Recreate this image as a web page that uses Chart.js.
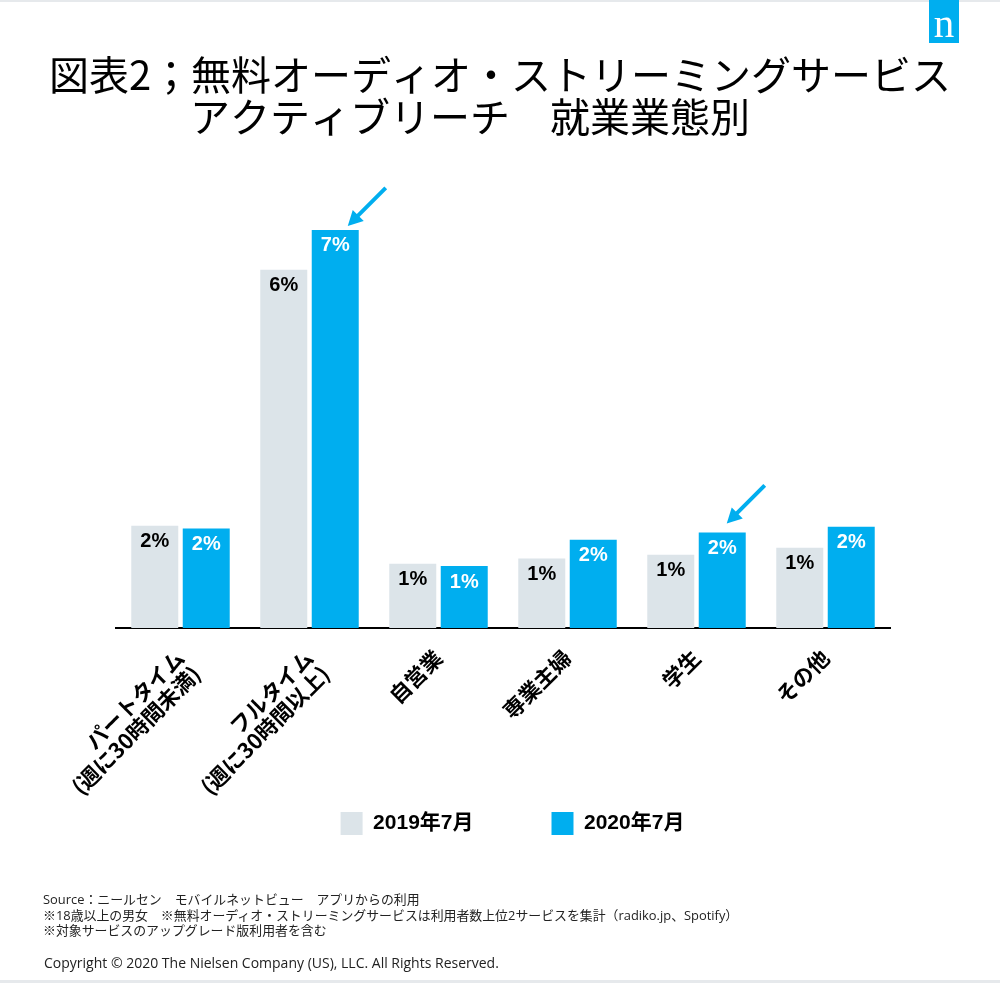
<!DOCTYPE html>
<html lang="ja"><head><meta charset="utf-8">
<script src="https://cdn.jsdelivr.net/npm/chart.js@4"></script>
<style>
html,body{margin:0;padding:0;background:#fff;width:1000px;height:983px;overflow:hidden}
#wrap{position:relative;width:1000px;height:983px}
canvas{position:absolute;left:0;top:0}
.edge{position:absolute;left:0;width:1000px;background:#e6e9ec}
#logo{position:absolute;left:929px;top:0;width:30px;height:43px;background:#00aeef;color:#fff;font:400 41px/46px "Liberation Serif",serif;text-align:center}
.note{position:absolute;left:43px;font:12.9px/16px "Open Sans","Noto Sans CJK JP",sans-serif;color:#222;white-space:pre}
</style></head><body>
<div id="wrap">
<canvas id="c" width="1000" height="983"></canvas>
<div class="edge" style="top:0;height:2px"></div>
<div class="edge" style="top:980px;height:3px"></div>
<div id="logo">n</div>
<div class="note" style="top:891px">Source：ニールセン　モバイルネットビュー　アプリからの利用</div>
<div class="note" style="top:907px">※18歳以上の男女　※無料オーディオ・ストリーミングサービスは利用者数上位2サービスを集計（radiko.jp、Spotify）</div>
<div class="note" style="top:922px">※対象サービスのアップグレード版利用者を含む</div>
<div class="note" style="top:955px;font-size:14px;left:44px">Copyright © 2020 The Nielsen Company (US), LLC. All Rights Reserved.</div>
</div>
<script>
const titleLines = ["図表2；無料オーディオ・ストリーミングサービス", "アクティブリーチ　就業業態別　\u2002"];
const categories = [["パートタイム","(週に30時間未満)"],["フルタイム","(週に30時間以上)"],"自営業","専業主婦","学生","その他"];
const seriesNames = ["2019年7月","2020年7月"];
const values2019 = [1.80,6.30,1.13,1.22,1.29,1.41];
const values2020 = [1.75,7.00,1.09,1.55,1.68,1.78];
const colors = ["#dce4e9","#00aeef"];
const labelColors = ["#000000","#ffffff"];
const arrows = [
  {dataset:1,index:1,tipDx:-11,tipDy:-4},
  {dataset:1,index:4,tipDx:-19,tipDy:-9}
];
const sansBold = '"Liberation Sans","Noto Sans CJK JP",sans-serif';
const legendGap = 78;

const barLabels = {
  id:'barLabels',
  afterDatasetsDraw(chart){
    const ctx = chart.ctx;
    ctx.save();
    ctx.textAlign='center';ctx.textBaseline='middle';
    ctx.font='bold 20px '+sansBold;
    chart.data.datasets.forEach((ds,di)=>{
      chart.getDatasetMeta(di).data.forEach((bar,i)=>{
        ctx.fillStyle=labelColors[di];
        ctx.fillText(Math.round(ds.data[i])+'%',bar.x,bar.y+16);
      });
    });
    ctx.restore();
  }
};
const arrowMarks = {
  id:'arrowMarks',
  afterDatasetsDraw(chart){
    const ctx=chart.ctx;
    ctx.save();
    ctx.strokeStyle=colors[1];ctx.fillStyle=colors[1];ctx.lineWidth=4;
    arrows.forEach(a=>{
      const bar=chart.getDatasetMeta(a.dataset).data[a.index];
      const tx=bar.x+bar.width/2+a.tipDx, ty=bar.y+a.tipDy;
      ctx.beginPath();ctx.moveTo(tx+38,ty-38);ctx.lineTo(tx+8,ty-8);ctx.stroke();
      ctx.beginPath();ctx.moveTo(tx,ty);ctx.lineTo(tx+16,ty-5);ctx.lineTo(tx+5,ty-16);ctx.closePath();ctx.fill();
    });
    ctx.restore();
  }
};
const placeBlocks = {
  id:'placeBlocks',
  afterLayout(chart){
    const t=chart.titleBlock; t.left=0; t.right=1000;
    const l=chart.legend; l.left=0; l.right=947+legendGap; l.top=812-legendGap;
  }
};

new Chart(document.getElementById('c'),{
  type:'bar',
  data:{labels:categories,datasets:[
    {label:seriesNames[0],data:values2019,backgroundColor:colors[0]},
    {label:seriesNames[1],data:values2020,backgroundColor:colors[1]}
  ]},
  plugins:[barLabels,arrowMarks,placeBlocks],
  options:{
    responsive:false,animation:false,
    categoryPercentage:0.798,barPercentage:0.913,
    layout:{padding:{left:116,right:110,top:0,bottom:0}},
    plugins:{
      tooltip:{enabled:false},
      title:{display:true,text:titleLines,color:'#000',
        font:{family:'"Noto Sans CJK JP"',size:40,weight:'400',lineHeight:1.05},
        padding:{top:54,bottom:35}},
      legend:{position:'bottom',
        labels:{boxWidth:22,boxHeight:23,padding:legendGap,color:'#000',
          font:{family:sansBold,size:21,weight:'bold'}}}
    },
    scales:{
      x:{
        grid:{display:false,drawTicks:false},
        border:{display:true,color:'#000',width:2},
        afterFit(s){s.height=983-628-s.chart.legend.height;s.paddingLeft=0;s.paddingRight=0;},
        ticks:{autoSkip:false,minRotation:45,maxRotation:45,padding:18,color:'#000',
          font:{family:'"Noto Sans CJK JP"',size:21.5,weight:'700',lineHeight:1.05}}
      },
      y:{display:false,min:0,max:8}
    }
  }
});
</script>
</body></html>
